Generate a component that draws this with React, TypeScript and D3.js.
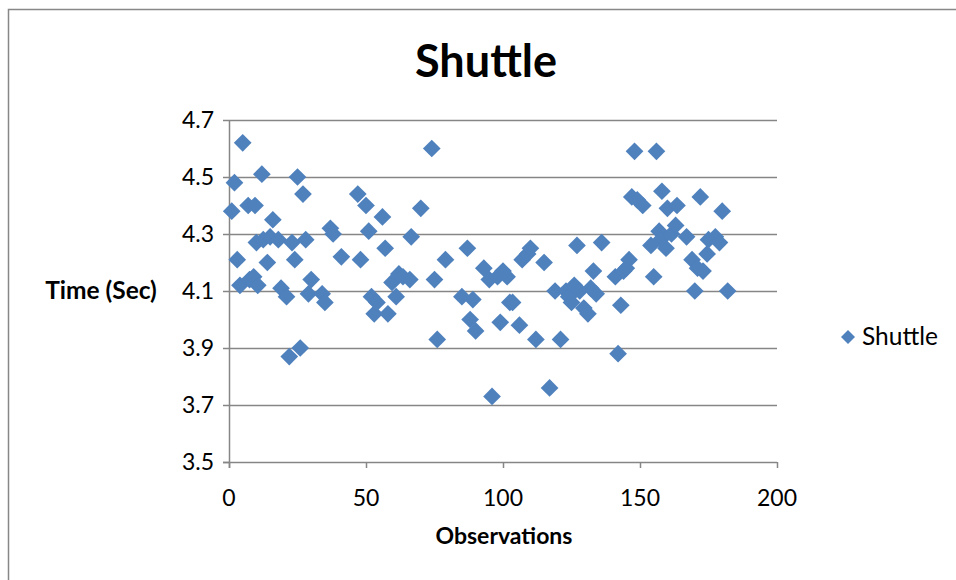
import React from "react";
import * as d3 from "d3";

const obsX: number[] = [1, 2, 3, 4, 5, 7, 7.5, 9, 9.5, 10, 10.5, 12, 12.5, 14, 15, 16, 18, 19, 21, 22, 23, 24, 25, 26, 27, 28, 29, 30, 34, 35, 37, 38, 41, 47, 48, 50, 51, 52, 53, 54, 56, 57, 58, 59.5, 61, 62, 63.5, 66, 66.5, 70, 74, 75, 76, 79, 85, 87, 88, 89, 90, 93, 95, 96, 98, 99, 100, 101.5, 102.5, 103.5, 106, 107, 109, 110, 112, 115, 117, 119, 121, 123, 124, 125, 126, 127, 128, 129.5, 131, 132, 133, 134, 136, 141, 142, 143, 144, 145, 146, 147, 148, 149, 151, 154, 155, 156, 157, 157.5, 158, 159.5, 160, 161.5, 163, 163.5, 167, 169, 170, 171, 172, 173, 174.5, 175, 177.5, 179, 180, 182];
const timeY: number[] = [4.38, 4.48, 4.21, 4.12, 4.62, 4.40, 4.14, 4.15, 4.40, 4.27, 4.12, 4.51, 4.28, 4.20, 4.29, 4.35, 4.28, 4.11, 4.08, 3.87, 4.27, 4.21, 4.50, 3.90, 4.44, 4.28, 4.09, 4.14, 4.09, 4.06, 4.32, 4.30, 4.22, 4.44, 4.21, 4.40, 4.31, 4.08, 4.02, 4.06, 4.36, 4.25, 4.02, 4.13, 4.08, 4.16, 4.15, 4.14, 4.29, 4.39, 4.60, 4.14, 3.93, 4.21, 4.08, 4.25, 4.00, 4.07, 3.96, 4.18, 4.14, 3.73, 4.15, 3.99, 4.17, 4.15, 4.06, 4.06, 3.98, 4.21, 4.23, 4.25, 3.93, 4.20, 3.76, 4.10, 3.93, 4.10, 4.08, 4.06, 4.12, 4.26, 4.10, 4.04, 4.02, 4.11, 4.17, 4.09, 4.27, 4.15, 3.88, 4.05, 4.17, 4.18, 4.21, 4.43, 4.59, 4.42, 4.40, 4.26, 4.15, 4.59, 4.31, 4.28, 4.45, 4.25, 4.39, 4.30, 4.33, 4.40, 4.29, 4.21, 4.10, 4.18, 4.43, 4.17, 4.23, 4.28, 4.29, 4.27, 4.38, 4.10];
const xTicks: number[] = [0, 50, 100, 150, 200];
const yTicks: number[] = [3.5, 3.7, 3.9, 4.1, 4.3, 4.5, 4.7];

const FONT = "Lato, 'Open Sans', 'Liberation Sans', sans-serif";
const BLUE = "#4F81BD";
const GRID = "#868686";

export default function App() {
  const x = d3.scaleLinear().domain([0, 200]).range([229, 777]);
  const y = d3.scaleLinear().domain([3.5, 4.7]).range([462, 120]);
  const diamond = d3.symbol().type(d3.symbolDiamond2).size(200)()!;
  const legendDiamond = d3.symbol().type(d3.symbolDiamond2).size(125)()!;
  const pts = obsX.map((v, i) => ({ x: v, y: timeY[i] }));
  return (
    <svg width={956} height={580} style={{ position: "absolute", left: 0, top: 0, background: "#fff" }}>
      <rect x={8.5} y={9.5} width={1000} height={1000} fill="#fff" stroke="#878787" strokeWidth={1.5} />
      <text x={486} y={77} textAnchor="middle" fontFamily={FONT} fontWeight="bold" fontSize={45}>Shuttle</text>
      {yTicks.map((t) => (
        <g key={"y" + t}>
          {t > 3.5 && <line x1={229} x2={777} y1={Math.round(y(t)) + 0.5} y2={Math.round(y(t)) + 0.5} stroke={GRID} strokeWidth={1.5} />}
          <line x1={223} x2={229} y1={Math.round(y(t)) + 0.5} y2={Math.round(y(t)) + 0.5} stroke={GRID} strokeWidth={1.5} />
          <text x={214} y={y(t) + 8} textAnchor="end" fontFamily={FONT} fontSize={23}>{t.toFixed(1)}</text>
        </g>
      ))}
      <line x1={229.5} x2={229.5} y1={y(4.7)} y2={468} stroke={GRID} strokeWidth={1.5} />
      <line x1={223} x2={777} y1={462.5} y2={462.5} stroke={GRID} strokeWidth={1.5} />
      {xTicks.map((t) => (
        <g key={"x" + t}>
          <line x1={Math.round(x(t)) + 0.5} x2={Math.round(x(t)) + 0.5} y1={462} y2={468} stroke={GRID} strokeWidth={1.5} />
          <text x={x(t)} y={506} textAnchor="middle" fontFamily={FONT} fontSize={23}>{t}</text>
        </g>
      ))}
      <text x={504} y={544} textAnchor="middle" fontFamily={FONT} fontWeight="bold" fontSize={23}>Observations</text>
      <text x={101} y={299} textAnchor="middle" fontFamily={FONT} fontWeight="bold" fontSize={24.5}>Time (Sec)</text>
      {pts.map((p, i) => (
        <path key={i} d={diamond} transform={`translate(${x(p.x)},${y(p.y)})`} fill={BLUE} />
      ))}
      <path d={legendDiamond} transform="translate(848,337)" fill={BLUE} />
      <text x={862} y={345} fontFamily={FONT} fontSize={24.5}>Shuttle</text>
    </svg>
  );
}
